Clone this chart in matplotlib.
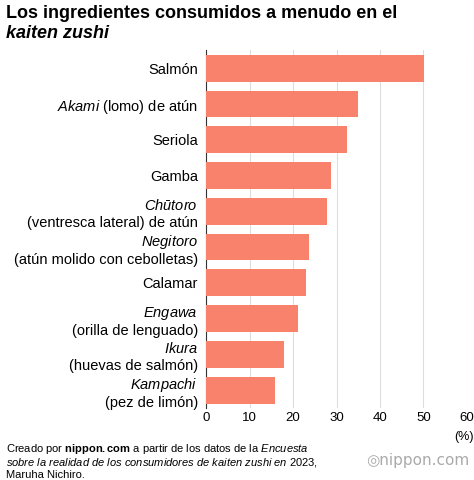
import matplotlib
matplotlib.use("Agg")
import matplotlib.pyplot as plt

plt.rcParams['font.family'] = ['Liberation Sans', 'DejaVu Sans']
plt.rcParams['mathtext.fontset'] = 'custom'
plt.rcParams['mathtext.rm'] = 'Liberation Sans'
plt.rcParams['mathtext.it'] = 'Liberation Sans:italic'
plt.rcParams['mathtext.bf'] = 'Liberation Sans:bold'

labels = ["Salmón", r"$\mathit{Akami}$ (lomo) de atún", "Seriola", "Gamba",
          "$\\mathit{Chūtoro}$\n(ventresca lateral) de atún",
          "$\\mathit{Negitoro}$\n(atún molido con cebolletas)", "Calamar",
          "$\\mathit{Engawa}$\n(orilla de lenguado)",
          "$\\mathit{Ikura}$\n(huevas de salmón)",
          "$\\mathit{Kampachi}$\n(pez de limón)"]
values = [50.1, 35.0, 32.4, 28.8, 27.8, 23.7, 22.9, 21.1, 17.9, 15.9]
ticks = [0, 10, 20, 30, 40, 50, 60]

fig = plt.figure(figsize=(4.74, 4.80), dpi=100)
ax = fig.add_axes([0.435, 0.15, 0.55, 0.745])
y = list(range(len(values)))
ax.barh(y, values, height=0.75, color='#F8826C', zorder=3)
ax.set_ylim(len(values) - 0.5, -0.5)
ax.set_xlim(0, 60)
ax.set_xticks(ticks)
ax.set_xticklabels([str(t) for t in ticks], fontsize=9.5)
ax.set_yticks(y)
ax.set_yticklabels(labels, fontsize=10.5, ha='right', multialignment='right')
ax.grid(axis='x', color='#dddddd', lw=0.8, zorder=0)
for s in ['top', 'right', 'bottom']:
    ax.spines[s].set_visible(False)
ax.spines['left'].set_color('#333333')
ax.tick_params(length=0, pad=6)
ax.tick_params(axis='x', pad=3)
ax.text(59.3, -0.065, "(%)", transform=ax.get_xaxis_transform(), ha='center', va='top', fontsize=9)

fig.text(0.012, 0.99, "Los ingredientes consumidos a menudo en el", fontsize=13,
         fontweight='bold', va='top')
fig.text(0.012, 0.948, "kaiten zushi", fontsize=13, fontweight='bold',
         fontstyle='italic', va='top')
fig.text(0.012, 0.058, r"Creado por $\mathbf{nippon.com}$ a partir de los datos de la $\mathit{Encuesta}$",
         fontsize=8, va='baseline')
fig.text(0.012, 0.030, r"$\mathit{sobre\ la\ realidad\ de\ los\ consumidores\ de\ kaiten\ zushi\ en\ 2023}$,",
         fontsize=8, va='baseline')
fig.text(0.012, 0.004, "Maruha Nichiro.", fontsize=8, va='baseline')
fig.text(0.99, 0.04, "◎nippon.com", fontsize=11, color='#aaaaaa', ha='right', va='center',
         family=['DejaVu Sans'])
fig.savefig("out.png", dpi=100)
